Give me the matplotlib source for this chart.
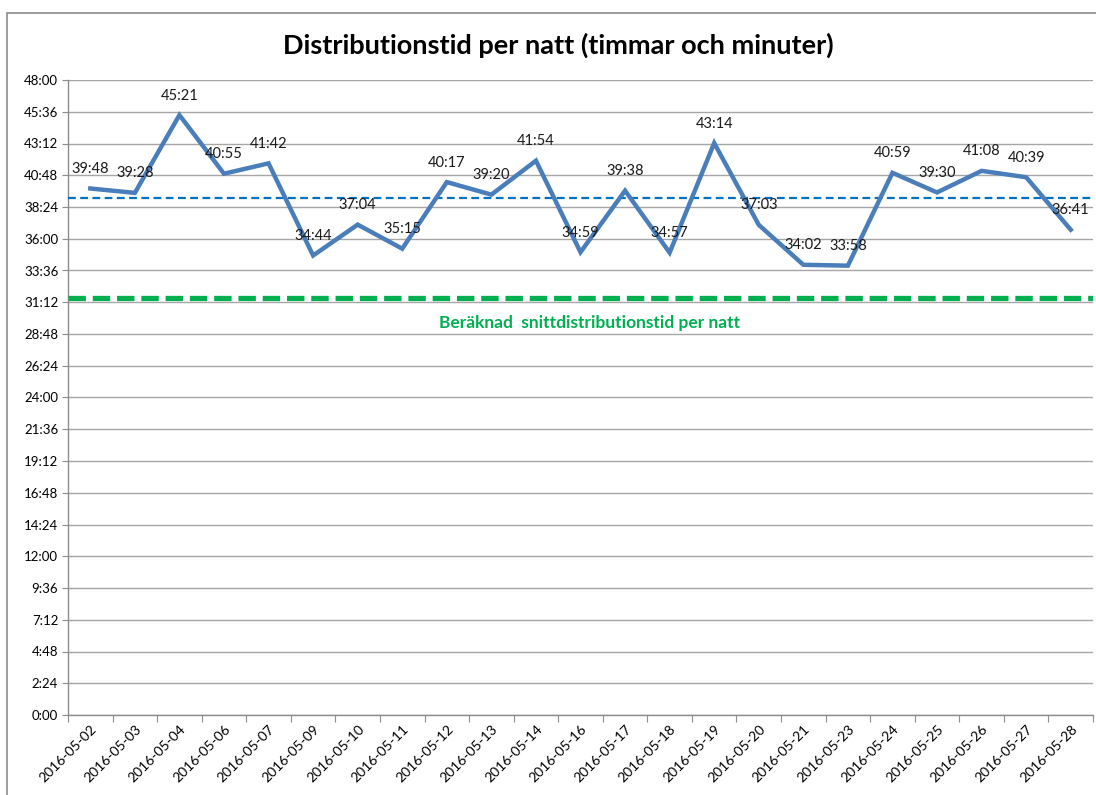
import matplotlib
matplotlib.use("Agg")
import matplotlib.pyplot as plt
from matplotlib.patches import Rectangle
from matplotlib.ticker import FuncFormatter, MultipleLocator

# Nights and distribution time per night ("h:mm")
dates = ["2016-05-02", "2016-05-03", "2016-05-04", "2016-05-06", "2016-05-07",
         "2016-05-09", "2016-05-10", "2016-05-11", "2016-05-12", "2016-05-13",
         "2016-05-14", "2016-05-16", "2016-05-17", "2016-05-18", "2016-05-19",
         "2016-05-20", "2016-05-21", "2016-05-23", "2016-05-24", "2016-05-25",
         "2016-05-26", "2016-05-27", "2016-05-28"]
times = ["39:48", "39:28", "45:21", "40:55", "41:42", "34:44", "37:04", "35:15",
         "40:17", "39:20", "41:54", "34:59", "39:38", "34:57", "43:14", "37:03",
         "34:02", "33:58", "40:59", "39:30", "41:08", "40:39", "36:41"]
mean_line = "39:07"       # thin blue dashed reference
target_line = "31:32"     # estimated average (green)
target_label = "Beräknad  snittdistributionstid per natt"


def to_minutes(s):
    h, m = s.split(":")
    return int(h) * 60 + int(m)


def fmt_hm(v, pos=None):
    v = int(round(v))
    return f"{v // 60}:{v % 60:02d}"


minutes = [to_minutes(t) for t in times]
x = list(range(len(dates)))

plt.rcParams["font.family"] = ["Lato", "DejaVu Sans"]

fig = plt.figure(figsize=(10.96, 7.95), dpi=100)
ax = fig.add_axes([68 / 1096, 1 - 715 / 795, (1093 - 68) / 1096, (715 - 80) / 795])

# outer chart border
fig.patches.append(Rectangle((7 / 1096, -0.1), 1.2, 1.1 - 13 / 795,
                             transform=fig.transFigure, fill=False,
                             edgecolor="#8c8c8c", linewidth=1.2))

ax.plot(x, minutes, color="#4a7ebb", linewidth=3.2, solid_joinstyle="miter", zorder=4)
ax.axhline(to_minutes(mean_line), color="#0070c0", linewidth=1.6,
           linestyle=(0, (3.5, 2)), zorder=3)
ax.axhline(to_minutes(target_line), color="#00b050", linewidth=3.8,
           linestyle=(0, (3.3, 1.3)), zorder=3)
ax.text((len(dates) - 1) / 2 + 0.2, to_minutes(target_line) - 112, target_label,
        color="#00b050", fontsize=12.5, fontweight="bold", ha="center", va="center")

for xi, m, t in zip(x, minutes, times):
    ax.annotate(t, (xi, m), xytext=(0, 14), textcoords="offset points",
                ha="center", va="center", fontsize=10.5, color="#1a1a1a", zorder=5)

ax.set_xlim(-0.5, len(dates) - 0.5)
ax.set_ylim(0, 2880)
ax.yaxis.set_major_locator(MultipleLocator(144))
ax.yaxis.set_major_formatter(FuncFormatter(fmt_hm))
ax.set_xticks([i - 0.5 for i in range(len(dates) + 1)], minor=False)
ax.set_xticklabels([])
ax.set_xticks(x, minor=True)
ax.set_xticklabels(dates, minor=True, rotation=45, ha="right", rotation_mode="anchor",
                   fontsize=10)
ax.tick_params(axis="x", which="minor", length=0, pad=6)
ax.tick_params(axis="x", which="major", length=5, color="#8c8c8c")
ax.tick_params(axis="y", length=4, color="#8c8c8c", labelsize=9.5, pad=3)

ax.grid(axis="y", color="#a6a6a6", linewidth=1)
ax.set_axisbelow(True)
for side in ["top", "right"]:
    ax.spines[side].set_visible(False)
for side in ["left", "bottom"]:
    ax.spines[side].set_color("#8c8c8c")
    ax.spines[side].set_linewidth(1)

fig.text(558 / 1096, 1 - 45 / 795, "Distributionstid per natt (timmar och minuter)",
         ha="center", va="center", fontsize=19.5, fontweight="bold")

fig.savefig("out.png", dpi=100)
